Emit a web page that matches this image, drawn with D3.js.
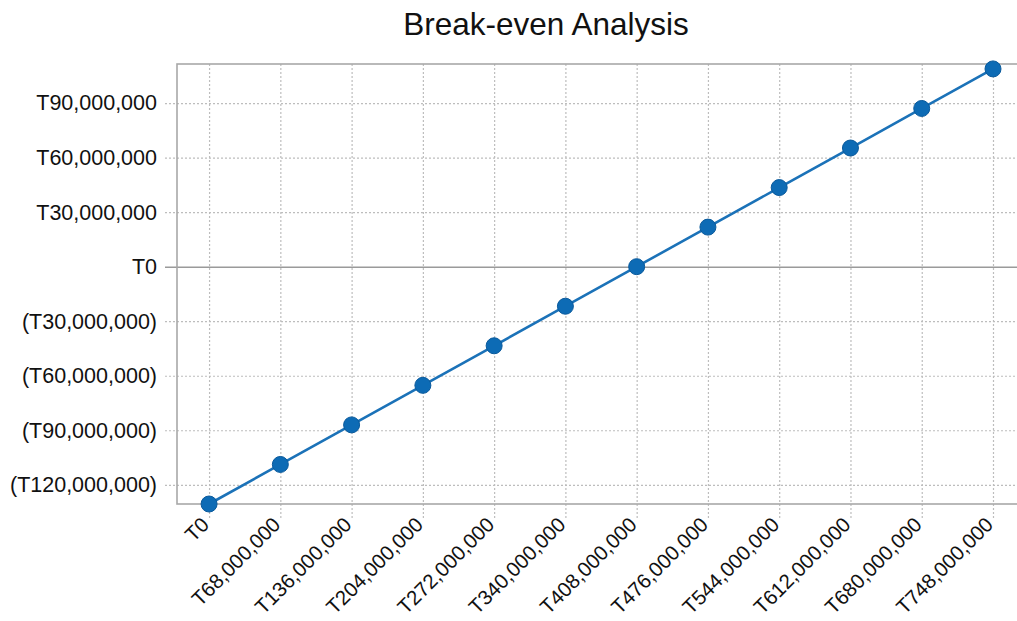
<!DOCTYPE html>
<html>
<head>
<meta charset="utf-8">
<script src="https://cdn.jsdelivr.net/npm/d3@7"></script>
<style>
  html, body { margin: 0; padding: 0; background: #ffffff; }
  svg { display: block; font-family: "Liberation Sans", Arial, sans-serif; }
</style>
</head>
<body>
<svg id="chart" width="1017" height="621"></svg>
<script>
// Sales revenue levels (x) and the resulting operating profit (y)
const revenue = [0, 68e6, 136e6, 204e6, 272e6, 340e6, 408e6, 476e6, 544e6, 612e6, 680e6, 748e6];
const profit = [-130.56e6, -108.8e6, -87.04e6, -65.28e6, -43.52e6, -21.76e6, 0,
                21.76e6, 43.52e6, 65.28e6, 87.04e6, 108.8e6];
const yTicks = [-120e6, -90e6, -60e6, -30e6, 0, 30e6, 60e6, 90e6];
const xTicks = revenue;
const title = "Break-even Analysis";

const plot = { left: 177, top: 64, right: 1030, bottom: 504 };

const svg = d3.select("#chart");

const x = d3.scaleLinear()
  .domain([-30.6e6, 748e6])
  .range([plot.left, 993]);
const y = d3.scaleLinear()
  .domain([-130.56e6, 111.5e6])
  .range([plot.bottom, plot.top]);

const num = d3.format(",.0f");
const money = v => v < 0 ? "(T" + num(-v) + ")" : "T" + num(v);

// Title
svg.append("text")
  .attr("x", 546).attr("y", 35)
  .attr("text-anchor", "middle")
  .attr("font-size", 31.5)
  .attr("fill", "#111")
  .text(title);

// Horizontal gridlines (dotted; the zero line solid), extending left as tick marks
const yAxis = d3.axisLeft(y)
  .tickValues(yTicks)
  .tickFormat(money)
  .tickSize(0);
const gy = svg.append("g")
  .attr("transform", `translate(${plot.left - 12},0)`)
  .call(yAxis);
gy.select(".domain").remove();
gy.selectAll(".tick line")
  .attr("x1", 0)
  .attr("x2", (plot.right - plot.left) + 12)
  .attr("stroke", d => d === 0 ? "#9a9a9a" : "#bdbdbd")
  .attr("stroke-width", d => d === 0 ? 1.6 : 1.2)
  .attr("stroke-dasharray", d => d === 0 ? null : "2,2");
gy.selectAll(".tick text")
  .attr("x", -8)
  .attr("font-size", 21.5)
  .attr("fill", "#111");

// Vertical gridlines (dotted), extending below the plot as tick marks
const xAxis = d3.axisBottom(x)
  .tickValues(xTicks)
  .tickFormat(money)
  .tickSize(plot.bottom - plot.top + 14)
  .tickPadding(0);
const gx = svg.append("g")
  .attr("transform", `translate(0,${plot.top})`)
  .call(xAxis);
gx.select(".domain").remove();
gx.selectAll(".tick line")
  .attr("stroke", "#bdbdbd")
  .attr("stroke-width", 1.2)
  .attr("stroke-dasharray", "2,2");
gx.selectAll(".tick text")
  .attr("font-size", 20.5)
  .attr("fill", "#111")
  .attr("text-anchor", "end")
  .attr("dy", null)
  .attr("y", 0)
  .attr("dominant-baseline", "middle")
  .attr("transform", `translate(-3,${plot.bottom - plot.top + 18}) rotate(-45)`);

// Plot area border
svg.append("rect")
  .attr("x", plot.left).attr("y", plot.top)
  .attr("width", plot.right - plot.left)
  .attr("height", plot.bottom - plot.top)
  .attr("fill", "none")
  .attr("stroke", "#a8a8a8")
  .attr("stroke-width", 1.6);

// Profit line and markers
const pts = revenue.map((r, i) => [r, profit[i]]);
svg.append("path")
  .datum(pts)
  .attr("fill", "none")
  .attr("stroke", "#1b72b8")
  .attr("stroke-width", 2.6)
  .attr("d", d3.line().x(d => x(d[0])).y(d => y(d[1])));

svg.append("g")
  .selectAll("circle")
  .data(pts)
  .join("circle")
  .attr("cx", d => x(d[0]))
  .attr("cy", d => y(d[1]))
  .attr("r", 8)
  .attr("fill", "#0d6bb5")
  .attr("stroke", "#0a5a9c")
  .attr("stroke-width", 1);
</script>
</body>
</html>
